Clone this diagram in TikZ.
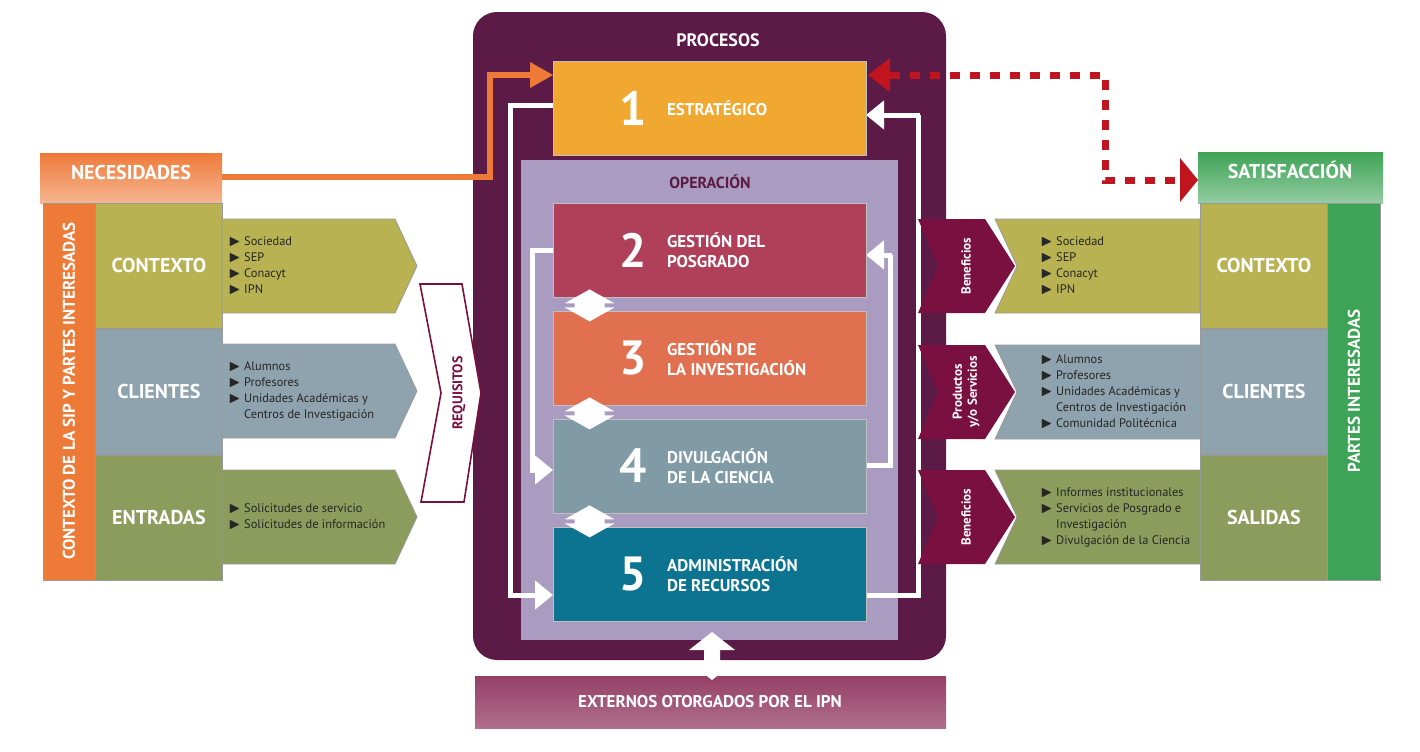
\documentclass[tikz,border=0pt]{standalone}
\usepackage{amssymb}
\usepackage{fontspec}
\setmainfont{PT Sans}
\usetikzlibrary{positioning,arrows.meta,calc}
\newcommand{\itm}{{\scriptsize$\blacktriangleright$}~}
\newcommand{\itn}{\phantom{\itm}}
\definecolor{plum}{HTML}{5C1A47}
\definecolor{lavender}{HTML}{A99CC0}
\definecolor{orangeA}{HTML}{F0A830}
\definecolor{roseB}{HTML}{B0405A}
\definecolor{salmonC}{HTML}{E07050}
\definecolor{slateD}{HTML}{809BA6}
\definecolor{tealE}{HTML}{0C7491}
\definecolor{oliveK}{HTML}{B8B252}
\definecolor{greyK}{HTML}{8EA3AE}
\definecolor{mossK}{HTML}{8C9C5C}
\definecolor{necO}{HTML}{EE7A38}
\definecolor{satG}{HTML}{3DA356}
\definecolor{wine}{HTML}{7A1040}
\definecolor{dotred}{HTML}{C0141E}
\tikzset{
  proc/.style={minimum width=156.5pt,minimum height=47pt,inner sep=0pt,draw=black!25},
  num/.style={text=white,inner sep=0pt,font=\bfseries\fontsize{24}{24}\selectfont},
  ptext/.style={text=white,inner sep=0pt,font=\bfseries\fontsize{8.5}{10}\selectfont,align=left,anchor=west},
  head/.style={text=white,font=\bfseries\fontsize{10}{12}\selectfont},
  cell/.style={minimum width=63.5pt,minimum height=62.5pt,inner sep=0pt,draw=black!40,head},
  items/.style={font=\fontsize{6.2}{8}\selectfont,inner sep=0pt,align=left,anchor=west,text=black!85},
  vbar/.style={text=white,font=\bfseries\fontsize{8.5}{10}\selectfont,rotate=90},
  loop/.style={white,line width=2.5pt},
  loopend/.style={-{Triangle[open,fill=white,length=9pt,width=14pt]},white,line width=2.5pt},
}
\begin{document}
\begin{tikzpicture}[x=0.5pt,y=-0.5pt]
\useasboundingbox (0,0) rectangle (1420,751);
% processes frame
\fill[plum,rounded corners=12pt] (473,12) rectangle (946,660);
\node[head,font=\bfseries\fontsize{9}{10}\selectfont] (procesos) at (718,40) {PROCESOS};
\fill[lavender] (521,160) rectangle (898,640);
\node[text=plum,font=\bfseries\fontsize{8}{10}\selectfont] (operacion) at (710,182) {OPERACIÓN};
% loops
\draw[loop] (553,105) -- (510,105) -- (510,595);
\draw[loopend] (508,595) -- (553,595);
\draw[loop] (553,250) -- (532,250) -- (532,470);
\draw[loopend] (530,470) -- (553,470);
\draw[loop] (866,595) -- (918,595) -- (918,115);
\draw[loopend] (920,115) -- (866,115);
\draw[loop] (866,465) -- (890,465) -- (890,255);
\draw[loopend] (892,255) -- (866,255);
% process boxes
\node[proc,fill=orangeA] (p1) at (709.5,108) {};
\node[proc,fill=roseB] (p2) at (709.5,250) {};
\node[proc,fill=salmonC] (p3) at (709.5,358) {};
\node[proc,fill=slateD] (p4) at (709.5,466) {};
\node[proc,fill=tealE] (p5) at (709.5,574) {};
\foreach \n/\t in {1/ESTRATÉGICO,2/{GESTIÓN DEL\\POSGRADO},3/{GESTIÓN DE\\LA INVESTIGACIÓN},4/{DIVULGACIÓN\\DE LA CIENCIA},5/{ADMINISTRACIÓN\\DE RECURSOS}}{
  \node[num] (n\n) at ($(p\n.west)+(81,0)$) {\n};
  \node[ptext] (t\n) at ($(p\n.west)+(114,0)$) {\t};
}
% double arrows between boxes
\foreach \a/\b in {p2/p3,p3/p4,p4/p5}{
  \fill[white] ($(\a.south west)+(37,-8)$) -- ++(25,14) -- ++(-10,0) -- ++(0,4) -- ++(10,0)
    -- ++(-25,14) -- ++(-25,-14) -- ++(10,0) -- ++(0,-4) -- ++(-10,0) -- cycle;
}
% necesidades
\shade[top color=necO,bottom color=necO!55] (40,153) rectangle (222,203);
\node[head] (necesidades) at (131,172) {NECESIDADES};
\fill[necO] (43,203) rectangle (95,580);
\draw[black!40] (43,203) rectangle (95,580);
\node[vbar] (contextoSIP) at (69,391) {CONTEXTO DE LA SIP Y PARTES INTERESADAS};
\node[cell,fill=oliveK,anchor=north west] (lk) at (95,203) {CONTEXTO};
\node[cell,fill=greyK,below=0pt of lk] (lc) {CLIENTES};
\node[cell,fill=mossK,below=0pt of lc] (le) {ENTRADAS};
% input arrows
\foreach \c/\y/\l in {oliveK/219/{\itm Sociedad\\\itm SEP\\\itm Conacyt\\\itm IPN},
  greyK/344/{\itm Alumnos\\\itm Profesores\\\itm Unidades Académicas y\\\itn Centros de Investigación},
  mossK/470/{\itm Solicitudes de servicio\\\itm Solicitudes de información}}{
  \fill[\c,draw=black!40] (222,\y) -- (395,\y) -- (417,\y+47) -- (395,\y+94) -- (222,\y+94) -- cycle;
  \node[items] at (228,\y+47) {\l};
}
% requisitos
\draw[wine,fill=white,line width=0.8pt] (420,284) -- (462,284) -- (481,393) -- (464,502) -- (421,502) -- (441,393) -- cycle;
\node[text=wine,font=\bfseries\fontsize{7}{8}\selectfont,rotate=90] (requisitos) at (459,393) {REQUISITOS};
% satisfaccion
\shade[top color=satG,bottom color=satG!55] (1198,152) rectangle (1383,203);
\node[head] (satisfaccion) at (1290,170) {SATISFACCIÓN};
\fill[satG] (1327,203) rectangle (1380,580);
\draw[black!40] (1327,203) rectangle (1380,580);
\node[vbar] (partes) at (1354,391) {PARTES INTERESADAS};
\node[cell,fill=oliveK,anchor=north west] (rk) at (1200,203) {CONTEXTO};
\node[cell,fill=greyK,below=0pt of rk] (rc) {CLIENTES};
\node[cell,fill=mossK,below=0pt of rc] (rs) {SALIDAS};
% output arrows
\foreach \c/\y/\b/\l in {oliveK/219/Beneficios/{\itm Sociedad\\\itm SEP\\\itm Conacyt\\\itm IPN},
  greyK/345/{Productos\\y/o Servicios}/{\itm Alumnos\\\itm Profesores\\\itm Unidades Académicas y\\\itn Centros de Investigación\\\itm Comunidad Politécnica},
  mossK/470/Beneficios/{\itm Informes institucionales\\\itm Servicios de Posgrado e\\\itn Investigación\\\itm Divulgación de la Ciencia}}{
  \fill[wine] (918,\y) -- (985,\y) -- (1015,\y+47) -- (985,\y+94) -- (918,\y+94) -- (938,\y+47) -- cycle;
  \node[text=white,font=\bfseries\fontsize{6.5}{7.5}\selectfont,rotate=90,align=center] at (966,\y+47) {\b};
  \fill[\c,draw=black!40] (995,\y) -- (1200,\y) -- (1200,\y+94) -- (995,\y+94) -- (1017,\y+47) -- cycle;
  \node[items] at (1040,\y+47) {\l};
}
% orange need arrow
\coordinate (nk) at (490,177);
\draw[necO,line width=3pt] (222,177) -- (nk) -- (490,75) -- (530,75);
\fill[necO] (530,62) -- (553,75) -- (530,88) -- cycle;
% dotted feedback
\draw[dotred,line width=3.5pt,dash pattern=on 5pt off 5pt] (890,75) -- (1105,75) -- (1105,180) -- (1180,180);
\fill[dotred] (868,75) -- (890,58) -- (890,92) -- cycle;
\fill[dotred] (1198,180) -- (1180,158) -- (1180,202) -- cycle;
% external
\shade[top color=wine!80,bottom color=wine!60] (475,676) rectangle (946,728);
\node[head,font=\bfseries\fontsize{8.5}{10}\selectfont] (externos) at (710,702) {EXTERNOS OTORGADOS POR EL IPN};
\fill[white] (712,632) -- (735,650) -- (720,650) -- (720,662) -- (735,662) -- (712,680) -- (689,662) -- (704,662) -- (704,650) -- (689,650) -- cycle;
\end{tikzpicture}
\end{document}
